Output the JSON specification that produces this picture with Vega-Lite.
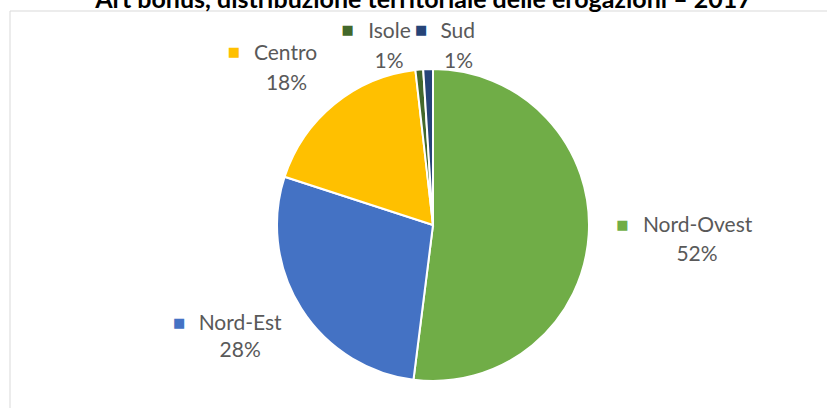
{
  "$schema": "https://vega.github.io/schema/vega-lite/v6.json",
  "autosize": {"type": "none"},
  "width": 822,
  "height": 402,
  "padding": {"left": 10, "top": 11, "right": -5, "bottom": -5},
  "background": "white",
  "title": {
    "text": "Art bonus, distribuzione territoriale delle erogazioni – 2017",
    "font": "Lato",
    "fontSize": 25,
    "fontWeight": "bold",
    "color": "#000000",
    "anchor": "middle",
    "offset": -2,
    "dx": 2.5
  },
  "data": {
    "values": [
      {"zona": "Nord-Ovest", "quota": 0.52, "n": 1},
      {"zona": "Nord-Est", "quota": 0.28, "n": 2},
      {"zona": "Centro", "quota": 0.182, "n": 3},
      {"zona": "Isole", "quota": 0.008, "n": 4},
      {"zona": "Sud", "quota": 0.01, "n": 5}
    ]
  },
  "layer": [
    {
      "data": {"values": [{"cornice": 1}]},
      "mark": {"type": "rect", "fill": null, "fillOpacity": 0, "stroke": "#D9D9D9", "strokeWidth": 1},
      "encoding": {}
    },
    {
      "mark": {"type": "arc", "outerRadius": 156, "stroke": "white", "strokeWidth": 2, "xOffset": 12, "yOffset": 13},
      "encoding": {
        "theta": {"field": "quota", "type": "quantitative", "stack": true},
        "order": {"field": "n", "type": "quantitative"},
        "color": {
          "field": "zona",
          "type": "nominal",
          "scale": {
            "domain": ["Nord-Ovest", "Nord-Est", "Centro", "Isole", "Sud"],
            "range": ["#70AD47", "#4472C4", "#FFC000", "#43682B", "#264478"]
          },
          "legend": null
        }
      }
    },
    {
      "mark": {
        "type": "text", "radius": 200, "xOffset": 12, "yOffset": 13,
        "font": "Lato", "fontSize": 21, "fill": "#595959", "align": "center", "baseline": "middle",
        "dx": {"expr": "datum.zona === 'Nord-Ovest' ? 65 : datum.zona === 'Nord-Est' ? -24 : datum.zona === 'Centro' ? -21 : datum.zona === 'Isole' ? -26 : 31"},
        "dy": {"expr": "datum.zona === 'Nord-Ovest' ? -11.1 : datum.zona === 'Nord-Est' ? -8.5 : datum.zona === 'Centro' ? -16.1 : datum.zona === 'Isole' ? 6.7 : 7.4"}
      },
      "encoding": {
        "theta": {"field": "quota", "type": "quantitative", "stack": true},
        "order": {"field": "n", "type": "quantitative"},
        "text": {"field": "zona"}
      }
    },
    {
      "mark": {
        "type": "text", "radius": 200, "xOffset": 12, "yOffset": 13,
        "font": "Lato", "fontSize": 21, "fill": "#595959", "align": "center", "baseline": "middle",
        "dx": {"expr": "datum.zona === 'Nord-Ovest' ? 64.4 : datum.zona === 'Nord-Est' ? -24 : datum.zona === 'Centro' ? -20 : datum.zona === 'Isole' ? -26.4 : 31.8"},
        "dy": {"expr": "datum.zona === 'Nord-Ovest' ? 17.9 : datum.zona === 'Nord-Est' ? 18.5 : datum.zona === 'Centro' ? 13.9 : datum.zona === 'Isole' ? 36.2 : 36.9"}
      },
      "encoding": {
        "theta": {"field": "quota", "type": "quantitative", "stack": true},
        "order": {"field": "n", "type": "quantitative"},
        "text": {"field": "quota", "type": "quantitative", "format": ".0%"}
      }
    },
    {
      "mark": {
        "type": "text", "radius": 200, "xOffset": 12, "yOffset": 13, "text": "■",
        "font": "DejaVu Sans", "fontSize": 13, "align": "center", "baseline": "middle",
        "dx": {"expr": "datum.zona === 'Nord-Ovest' ? -10.1 : datum.zona === 'Nord-Est' ? -85.1 : datum.zona === 'Centro' ? -72.5 : datum.zona === 'Isole' ? -67.9 : -5.7"},
        "dy": {"expr": "datum.zona === 'Nord-Ovest' ? -12.6 : datum.zona === 'Nord-Est' ? -8.7 : datum.zona === 'Centro' ? -17.6 : datum.zona === 'Isole' ? 4.7 : 5.4"}
      },
      "encoding": {
        "theta": {"field": "quota", "type": "quantitative", "stack": true},
        "order": {"field": "n", "type": "quantitative"},
        "color": {
          "field": "zona",
          "type": "nominal",
          "scale": {
            "domain": ["Nord-Ovest", "Nord-Est", "Centro", "Isole", "Sud"],
            "range": ["#70AD47", "#4472C4", "#FFC000", "#43682B", "#264478"]
          },
          "legend": null
        }
      }
    }
  ]
}
